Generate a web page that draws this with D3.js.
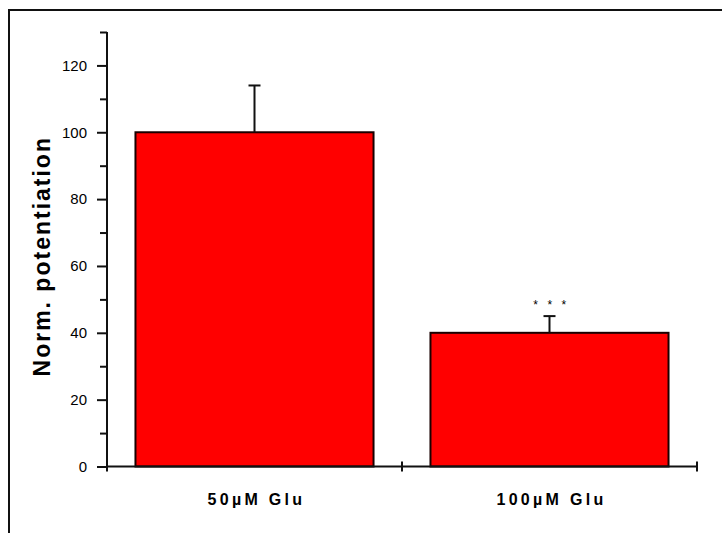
<!DOCTYPE html>
<html>
<head>
<meta charset="utf-8">
<script src="https://cdn.jsdelivr.net/npm/d3@7"></script>
<style>
  html, body { margin: 0; padding: 0; background: #fff; }
  svg { display: block; }
  text { font-family: "Liberation Sans", Arial, sans-serif; fill: #000; }
</style>
</head>
<body>
<script>
// Glutamate concentration groups and normalised potentiation (mean ± error)
const categories = ["50\u00B5M Glu", "100\u00B5M Glu"];
const means = [100, 40];
const errors = [14, 5];
const significance = ["", "***"];
const yMajorTicks = [0, 20, 40, 60, 80, 100, 120];
const yMinorTicks = [10, 30, 50, 70, 90, 110, 130];
const yLabel = "Norm. potentiation";

const W = 722, H = 533;
const plot = { left: 107, right: 697, top: 32, bottom: 466.5 };

const svg = d3.select("body").append("svg")
  .attr("width", W).attr("height", H);

// partial outer frame (top and left edges visible)
svg.append("rect")
  .attr("x", 9).attr("y", 10)
  .attr("width", W + 20).attr("height", H + 20)
  .attr("fill", "none").attr("stroke", "#111").attr("stroke-width", 2);

const x = d3.scaleBand()
  .domain(categories)
  .range([plot.left, plot.right])
  .paddingInner(0.193)
  .paddingOuter(0.0965);

const y = d3.scaleLinear()
  .domain([0, 130])
  .range([plot.bottom, plot.top]);

// bars
svg.append("g").selectAll("rect")
  .data(categories)
  .join("rect")
  .attr("x", d => x(d))
  .attr("y", (d, i) => y(means[i]))
  .attr("width", x.bandwidth())
  .attr("height", (d, i) => y(0) - y(means[i]))
  .attr("fill", "#ff0000")
  .attr("stroke", "#1a0000")
  .attr("stroke-width", 2);

// error bars (upper half only)
const eb = svg.append("g").attr("stroke", "#111").attr("stroke-width", 2);
categories.forEach((c, i) => {
  const cx = x(c) + x.bandwidth() / 2;
  eb.append("line")
    .attr("x1", cx).attr("x2", cx)
    .attr("y1", y(means[i])).attr("y2", y(means[i] + errors[i]));
  eb.append("line")
    .attr("x1", cx - 6).attr("x2", cx + 6)
    .attr("y1", y(means[i] + errors[i])).attr("y2", y(means[i] + errors[i]));
});

// significance markers
svg.append("g").selectAll("text")
  .data(categories)
  .join("text")
  .attr("x", d => x(d) + x.bandwidth() / 2 + 5)
  .attr("y", (d, i) => y(means[i] + errors[i]) - 7)
  .attr("text-anchor", "middle")
  .style("font-size", "12px")
  .style("letter-spacing", "9.5px")
  .attr("fill", "#222")
  .text((d, i) => significance[i]);

// y axis with major and minor ticks
const yAxis = svg.append("g").attr("transform", `translate(${plot.left},0)`);
yAxis.call(d3.axisLeft(y).tickValues(yMajorTicks).tickSize(10).tickPadding(10).tickFormat(d3.format("d")));
yAxis.append("g").call(d3.axisLeft(y).tickValues(yMinorTicks).tickSize(7).tickFormat(""))
  .select(".domain").remove();
yAxis.selectAll(".domain").attr("d", `M0,${plot.top}V${plot.bottom}`);
yAxis.selectAll("path, line").attr("stroke", "#111").attr("stroke-width", 2);
yAxis.selectAll("text")
  .style("font-size", "15px")
  .style("font-family", "'Liberation Sans', Arial, sans-serif")
  .attr("fill", "#111");

// x axis: baseline with crossing ticks at category boundaries
const xAxis = svg.append("g").attr("transform", `translate(0,${plot.bottom})`);
xAxis.append("line")
  .attr("x1", plot.left).attr("x2", plot.right)
  .attr("stroke", "#111").attr("stroke-width", 2);
xAxis.selectAll("line.tick")
  .data(d3.range(categories.length + 1).map(i => plot.left + i * x.step()))
  .join("line")
  .attr("class", "tick")
  .attr("x1", d => d).attr("x2", d => d)
  .attr("y1", -5).attr("y2", 5)
  .attr("stroke", "#111").attr("stroke-width", 2);

// category labels
xAxis.selectAll("text")
  .data(categories)
  .join("text")
  .attr("x", d => x(d) + x.bandwidth() / 2 + 2)
  .attr("y", 38.5)
  .attr("text-anchor", "middle")
  .style("font-size", "16px")
  .style("font-weight", "bold")
  .style("letter-spacing", "3.3px")
  .attr("fill", "#111")
  .text(d => d);

// y axis title
svg.append("text")
  .attr("transform", `translate(50,${(plot.top + plot.bottom) / 2 + 7}) rotate(-90)`)
  .attr("text-anchor", "middle")
  .style("font-size", "23px")
  .style("font-weight", "bold")
  .style("letter-spacing", "2px")
  .text(yLabel);
</script>
</body>
</html>
